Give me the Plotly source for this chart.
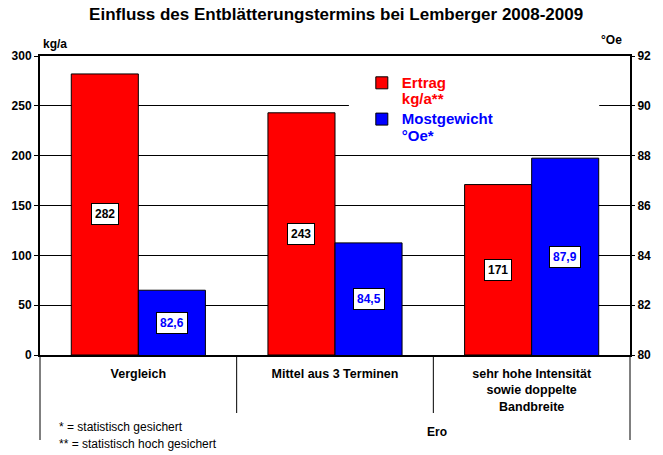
import plotly.graph_objects as go

categories = ["Vergleich", "Mittel aus 3 Terminen",
              "sehr hohe Intensität<br>sowie doppelte<br>Bandbreite"]
ertrag = [282, 243, 171]
mostgewicht = [82.6, 84.5, 87.9]
ertrag_labels = ["282", "243", "171"]
most_labels = ["82,6", "84,5", "87,9"]
legend_names = [("Ertrag", "kg/a**"), ("Mostgewicht", "°Oe*")]

RED = "#FF0000"
BLUE = "#0000FF"
FONT = "Liberation Sans, Arial, sans-serif"

W, H = 663, 455
ML, MR, MT, MB = 37, 32, 56, 100
PW, PH = W - ML - MR, H - MT - MB

def px_x(p):
    return (p - ML) / PW

def px_y(p):
    return (H - MB - p) / PH

def legend_name(lines, color):
    return "<br>".join("<span style='font-size:15px;color:%s'>%s</span>" % (color, t) for t in lines)

bargap = 0.318
half = (1 - bargap) / 4

fig = go.Figure()
idx = list(range(len(categories)))
fig.add_trace(go.Bar(
    x=idx, y=ertrag, name=legend_name(legend_names[0], RED),
    marker=dict(color=RED, line=dict(color="black", width=1)),
    offsetgroup="a", yaxis="y"))
fig.add_trace(go.Bar(
    x=idx, y=mostgewicht, name=legend_name(legend_names[1], BLUE),
    marker=dict(color=BLUE, line=dict(color="black", width=1)),
    offsetgroup="b", yaxis="y2"))

annotations = []
for i in idx:
    annotations.append(dict(x=i - half, y=ertrag[i] / 2, xref="x", yref="y",
                            text="<b>%s</b>" % ertrag_labels[i], showarrow=False,
                            font=dict(family=FONT, size=12, color="black"),
                            bgcolor="white", bordercolor="black", borderwidth=1, borderpad=3))
    annotations.append(dict(x=i + half, y=(80 + mostgewicht[i]) / 2, xref="x", yref="y2",
                            text="<b>%s</b>" % most_labels[i], showarrow=False,
                            font=dict(family=FONT, size=12, color=BLUE),
                            bgcolor="white", bordercolor="black", borderwidth=1, borderpad=3))

annotations += [
    dict(x=px_x(38), y=px_y(44), xref="paper", yref="paper", xanchor="left", yanchor="middle",
         text="<b>kg/a</b>", showarrow=False, font=dict(family=FONT, size=12, color="black")),
    dict(x=px_x(612), y=px_y(40), xref="paper", yref="paper", xanchor="center", yanchor="middle",
         text="<b>°Oe</b>", showarrow=False, font=dict(family=FONT, size=12, color="black")),
    dict(x=px_x(437), y=px_y(432), xref="paper", yref="paper", xanchor="center", yanchor="middle",
         text="<b>Ero</b>", showarrow=False, font=dict(family=FONT, size=12, color="black")),
    dict(x=px_x(54), y=px_y(427), xref="paper", yref="paper", xanchor="left", yanchor="middle",
         text="* = statistisch gesichert", showarrow=False, font=dict(family=FONT, size=12, color="black")),
    dict(x=px_x(54), y=px_y(444), xref="paper", yref="paper", xanchor="left", yanchor="middle",
         text="** = statistisch hoch gesichert", showarrow=False, font=dict(family=FONT, size=12, color="black")),
]

shapes = []
for i in idx[:-1]:
    shapes.append(dict(type="line", xref="x", yref="paper", x0=i + 0.5, x1=i + 0.5,
                       y0=0, y1=px_y(413), line=dict(color="black", width=1)))
for xp in (0, 1):
    shapes.append(dict(type="line", xref="paper", yref="paper", x0=xp, x1=xp,
                       y0=0, y1=px_y(440), line=dict(color="black", width=1)))
shapes.append(dict(type="rect", xref="paper", yref="paper", x0=px_x(348), x1=px_x(600),
                   y0=px_y(148), y1=px_y(62), fillcolor="white", line=dict(width=0), layer="above"))

fig.update_layout(
    width=W, height=H, autosize=False,
    margin=dict(l=ML, r=MR, t=MT, b=MB),
    paper_bgcolor="white", plot_bgcolor="white",
    font=dict(family=FONT, size=12, color="black"),
    title=dict(text="<b>Einfluss des Entblätterungstermins bei Lemberger 2008-2009</b>",
               x=0.507, xanchor="center", y=1 - 14 / H, yanchor="middle",
               font=dict(family=FONT, size=17, color="black")),
    barmode="group", bargap=bargap, bargroupgap=0,
    showlegend=True,
    legend=dict(x=px_x(361), y=px_y(68), xanchor="left", yanchor="top",
                bgcolor="rgba(0,0,0,0)",
                font=dict(family=FONT, size=12.8, color="black", weight="bold"), valign="top",
                itemwidth=30, tracegroupgap=4),
    xaxis=dict(type="linear", range=[-0.5, len(categories) - 0.5], tickmode="array",
               tickvals=idx, ticktext=["<b>%s</b>" % c for c in categories],
               showline=True, linecolor="black", linewidth=2, mirror=True,
               ticks="", showgrid=False, zeroline=False, ticklabelstandoff=6,
               tickfont=dict(family=FONT, size=12.5, color="black")),
    yaxis=dict(range=[0, 300], dtick=50, showgrid=True, gridcolor="black", gridwidth=1,
               showline=True, linecolor="black", linewidth=2, ticks="outside", ticklen=4,
               tickcolor="black", zeroline=False,
               tickfont=dict(family=FONT, size=12, color="black", weight="bold")),
    yaxis2=dict(range=[80, 92], dtick=2, overlaying="y", side="right", showgrid=False,
                showline=True, linecolor="black", linewidth=2, ticks="outside", ticklen=3,
                tickcolor="black", zeroline=False,
                tickfont=dict(family=FONT, size=12, color="black", weight="bold")),
    annotations=annotations, shapes=shapes,
)

fig.write_html("out.html", config={"displayModeBar": False},
               post_script="document.body.style.margin='0';")
